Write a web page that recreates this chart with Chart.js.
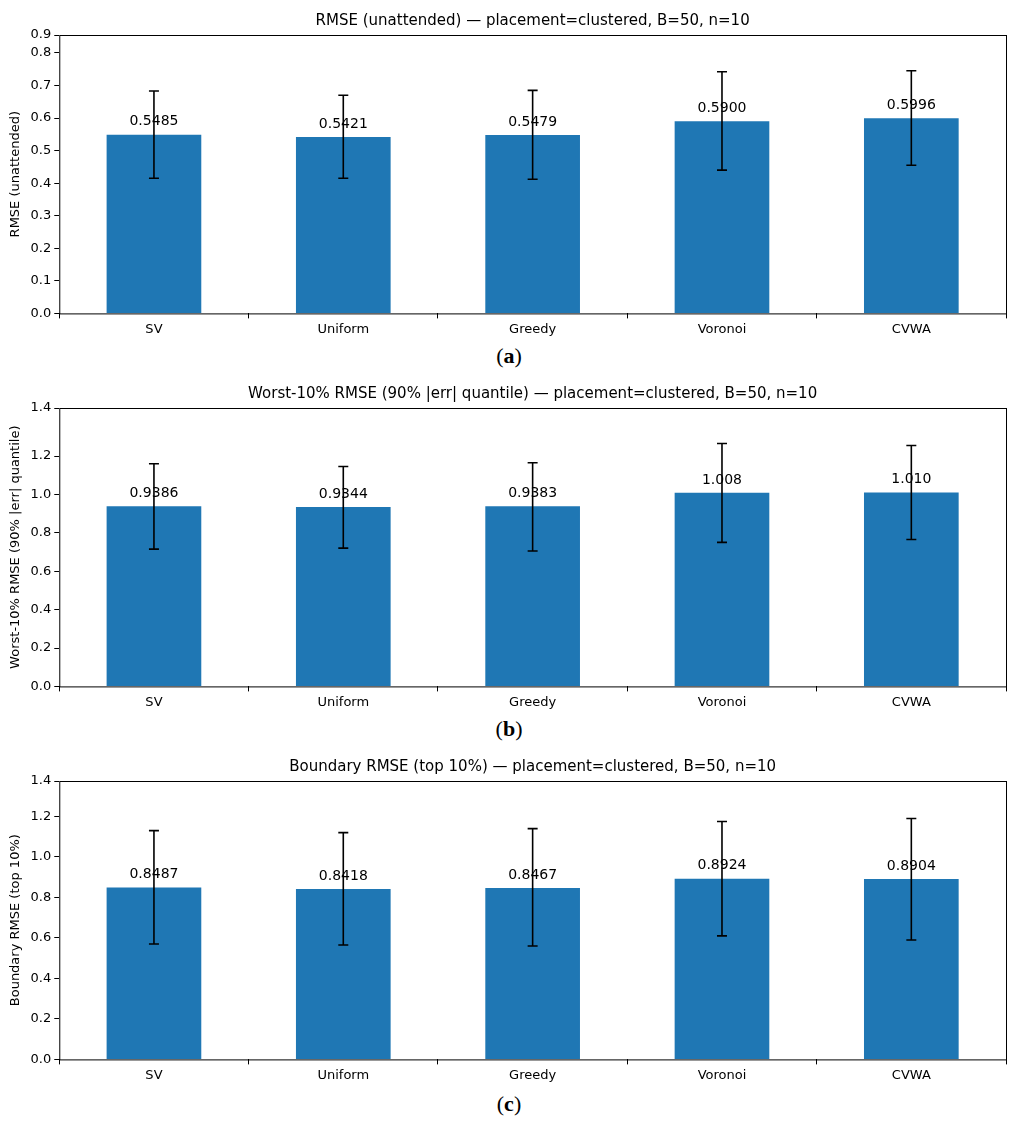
<!DOCTYPE html>
<html>
<head>
<meta charset="utf-8">
<script src="https://cdn.jsdelivr.net/npm/chart.js@4"></script>
<style>
  body { margin: 0; background: #fff; font-family: "DejaVu Sans", sans-serif; }
  .panel { position: absolute; left: 0; width: 1018px; height: 340px; }
  .cap { position: absolute; left: 0; width: 1018px; text-align: center; font-family: "Liberation Serif", serif; font-size: 22px; }
</style>
</head>
<body>
<div class="panel" style="top:0"><canvas id="c0"></canvas></div>
<div class="cap" style="top:343px">(<b>a</b>)</div>
<div class="panel" style="top:373px"><canvas id="c1"></canvas></div>
<div class="cap" style="top:716px">(<b>b</b>)</div>
<div class="panel" style="top:746px"><canvas id="c2"></canvas></div>
<div class="cap" style="top:1091px">(<b>c</b>)</div>
<script>
// 方法名称
const methods = ['SV', 'Uniform', 'Greedy', 'Voronoi', 'CVWA'];

// (a) RMSE (unattended)
const rmseVals = [0.5485, 0.5421, 0.5479, 0.5900, 0.5996];
const rmseLow = [0.415, 0.415, 0.412, 0.44, 0.455];
const rmseHigh = [0.683, 0.670, 0.685, 0.742, 0.745];
const rmseLabels = ['0.5485', '0.5421', '0.5479', '0.5900', '0.5996'];

// (b) Worst-10% RMSE
const worstVals = [0.9386, 0.9344, 0.9383, 1.008, 1.010];
const worstLow = [0.715, 0.72, 0.705, 0.75, 0.765];
const worstHigh = [1.16, 1.145, 1.165, 1.265, 1.255];
const worstLabels = ['0.9386', '0.9344', '0.9383', '1.008', '1.010'];

// (c) Boundary RMSE
const boundVals = [0.8487, 0.8418, 0.8467, 0.8924, 0.8904];
const boundLow = [0.57, 0.565, 0.56, 0.61, 0.59];
const boundHigh = [1.13, 1.12, 1.14, 1.175, 1.19];
const boundLabels = ['0.8487', '0.8418', '0.8467', '0.8924', '0.8904'];

const panels = [
  { id: 'c0', title: 'RMSE (unattended) — placement=clustered, B=50, n=10', ylabel: 'RMSE (unattended)',
    vals: rmseVals, low: rmseLow, high: rmseHigh, labels: rmseLabels, max: 0.855, step: 0.1, dec: 1 },
  { id: 'c1', title: 'Worst-10% RMSE (90% |err| quantile) — placement=clustered, B=50, n=10', ylabel: 'Worst-10% RMSE (90% |err| quantile)',
    vals: worstVals, low: worstLow, high: worstHigh, labels: worstLabels, max: 1.45, step: 0.2, dec: 1 },
  { id: 'c2', title: 'Boundary RMSE (top 10%) — placement=clustered, B=50, n=10', ylabel: 'Boundary RMSE (top 10%)',
    vals: boundVals, low: boundLow, high: boundHigh, labels: boundLabels, max: 1.375, step: 0.2, dec: 1 }
];

/**
 * 误差棒、数值标签、边框和标题
 */
const extras = {
  id: 'extras',
  afterDatasetsDraw(chart, args, opts) {
    const ctx = chart.ctx;
    const x = chart.scales.x, y = chart.scales.y;
    const a = chart.chartArea;
    ctx.save();
    ctx.strokeStyle = '#000';
    ctx.lineWidth = 1.6;
    opts.vals.forEach((v, i) => {
      const cx = x.getPixelForValue(i);
      const yl = y.getPixelForValue(opts.low[i]);
      const yh = y.getPixelForValue(opts.high[i]);
      ctx.beginPath();
      ctx.moveTo(cx, yl); ctx.lineTo(cx, yh);
      ctx.moveTo(cx - 5, yl); ctx.lineTo(cx + 5, yl);
      ctx.moveTo(cx - 5, yh); ctx.lineTo(cx + 5, yh);
      ctx.stroke();
      ctx.fillStyle = '#000';
      ctx.font = '14px "DejaVu Sans"';
      ctx.textAlign = 'center';
      ctx.textBaseline = 'bottom';
      ctx.fillText(opts.labels[i], cx, y.getPixelForValue(v) - 6);
    });
    ctx.lineWidth = 1;
    ctx.strokeRect(a.left + 0.5, a.top + 0.5, a.right - a.left, a.bottom - a.top);
    ctx.font = '15px "DejaVu Sans"';
    ctx.textAlign = 'center';
    ctx.textBaseline = 'bottom';
    ctx.fillText(opts.title, (a.left + a.right) / 2, a.top - 6);
    ctx.restore();
  }
};

panels.forEach(p => {
  new Chart(document.getElementById(p.id), {
    type: 'bar',
    data: {
      labels: methods,
      datasets: [{ data: p.vals, backgroundColor: '#1f77b4', categoryPercentage: 1, barPercentage: 0.5 }]
    },
    options: {
      responsive: true,
      maintainAspectRatio: false,
      animation: false,
      layout: { padding: { top: 35, right: 12, left: 4, bottom: 0 } },
      plugins: {
        legend: { display: false },
        tooltip: { enabled: false },
        extras: { vals: p.vals, low: p.low, high: p.high, labels: p.labels, title: p.title }
      },
      scales: {
        x: {
          grid: { display: true, drawOnChartArea: false, color: '#000', tickLength: 5 },
          border: { display: false },
          ticks: { color: '#000', font: { size: 13, family: 'DejaVu Sans' } }
        },
        y: {
          min: 0, max: p.max,
          grid: { display: true, drawOnChartArea: false, color: '#000', tickLength: 5 },
          border: { display: false },
          ticks: { stepSize: p.step, color: '#000', font: { size: 13, family: 'DejaVu Sans' },
                   callback: v => v.toFixed(1) },
          title: { display: true, text: p.ylabel, color: '#000', font: { size: 13, family: 'DejaVu Sans' } }
        }
      }
    },
    plugins: [extras]
  });
});
</script>
</body>
</html>
